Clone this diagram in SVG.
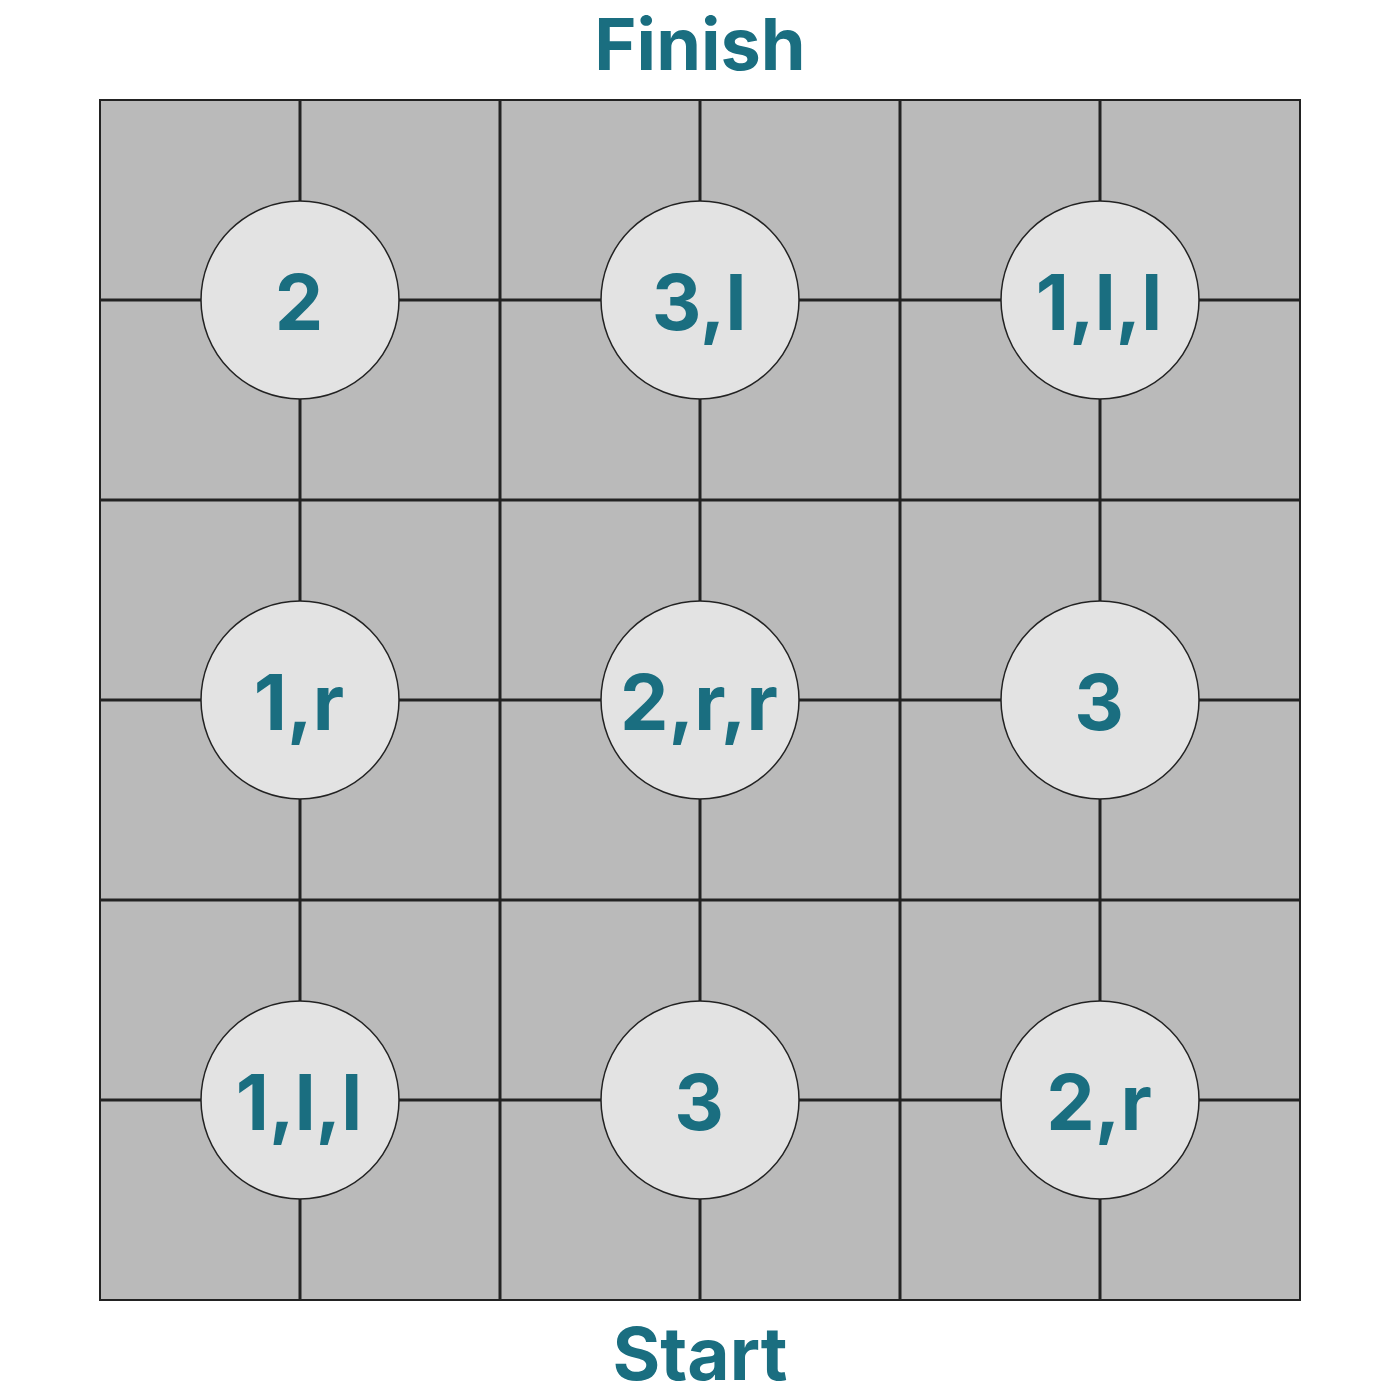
<svg xmlns="http://www.w3.org/2000/svg" width="1400" height="1400" viewBox="0 0 1400 1400">
<style>
.t{font-family:Inter,"Liberation Sans",sans-serif;font-weight:700;fill:#1a6e80;text-anchor:middle}
.g{stroke:#222;stroke-width:3;fill:none}
.c{fill:#e3e3e3;stroke:#222;stroke-width:1.5}
.n{font-size:77px}
</style>
<rect width="1400" height="1400" fill="#fff"/>
<rect x="100" y="100" width="1200" height="1200" fill="#bababa"/>
<g id="connectors" class="g">
<path d="M300 100V1300M500 100V1300M700 100V1300M900 100V1300M1100 100V1300M100 300H1300M100 500H1300M100 700H1300M100 900H1300M100 1100H1300"/>
<rect x="100" y="100" width="1200" height="1200" stroke-width="2"/>
</g>
<text id="finish" class="t" x="700" y="70" font-size="72">Finish</text>
<text id="start" class="t" x="700" y="1380" font-size="73">Start</text>
<g id="n11"><circle class="c" cx="300" cy="300" r="99"/><text class="t n" x="299" y="330">2</text></g>
<g id="n12"><circle class="c" cx="700" cy="300" r="99"/><text class="t n" x="699" y="330">3,l</text></g>
<g id="n13"><circle class="c" cx="1100" cy="300" r="99"/><text class="t n" x="1099" y="330">1,l,l</text></g>
<g id="n21"><circle class="c" cx="300" cy="700" r="99"/><text class="t n" x="299" y="730">1,r</text></g>
<g id="n22"><circle class="c" cx="700" cy="700" r="99"/><text class="t n" x="699" y="730">2,r,r</text></g>
<g id="n23"><circle class="c" cx="1100" cy="700" r="99"/><text class="t n" x="1099" y="730">3</text></g>
<g id="n31"><circle class="c" cx="300" cy="1100" r="99"/><text class="t n" x="299" y="1130">1,l,l</text></g>
<g id="n32"><circle class="c" cx="700" cy="1100" r="99"/><text class="t n" x="699" y="1130">3</text></g>
<g id="n33"><circle class="c" cx="1100" cy="1100" r="99"/><text class="t n" x="1099" y="1130">2,r</text></g>
</svg>
